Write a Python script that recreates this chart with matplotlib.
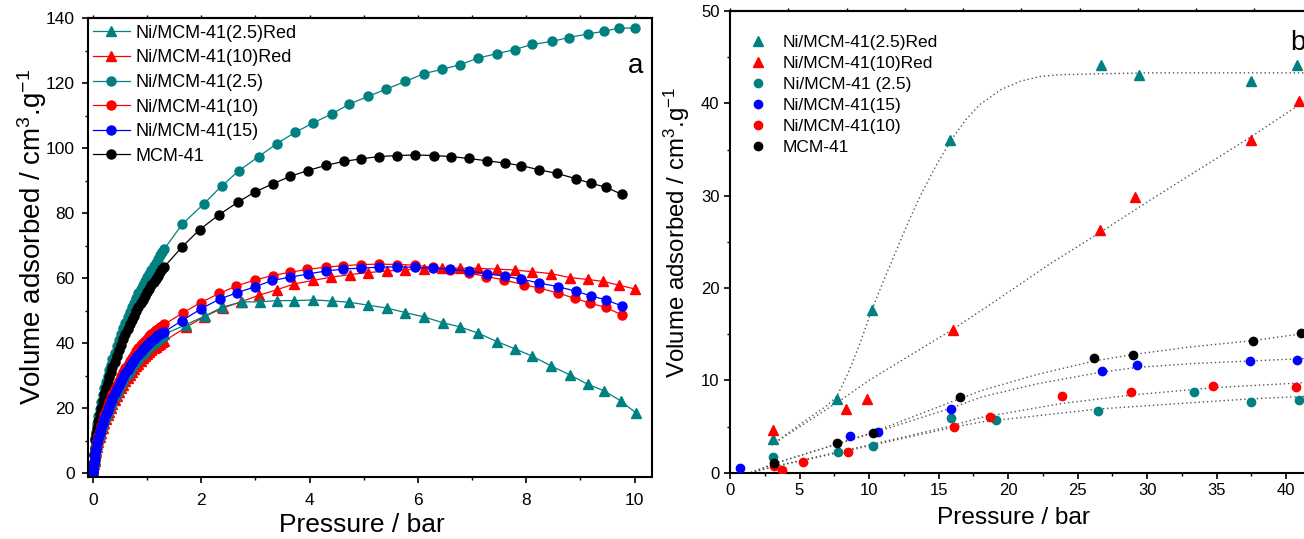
import numpy as np
import matplotlib
matplotlib.use('Agg')
from matplotlib import pyplot as plt
from matplotlib.ticker import MultipleLocator, FixedLocator

plt.rcParams['font.family'] = ['Liberation Sans', 'DejaVu Sans']
plt.rcParams['mathtext.fontset'] = 'custom'
plt.rcParams['mathtext.rm'] = 'Liberation Sans'
plt.rcParams['mathtext.it'] = 'Liberation Sans'

TEAL = '#008080'

# ---- panel a : isotherms ----
# low pressure part (dense points, shared pressures)
p_low = [0, 0.005, 0.01, 0.02, 0.03, 0.045, 0.06, 0.08, 0.1, 0.125, 0.15, 0.18, 0.21, 0.24,
         0.27, 0.3, 0.33, 0.36, 0.4, 0.44, 0.48, 0.52, 0.56, 0.6, 0.64, 0.68, 0.72, 0.76,
         0.8, 0.84, 0.88, 0.92, 0.96, 1.0, 1.04, 1.08, 1.12, 1.16, 1.2, 1.24, 1.28, 1.32]
tc_low = [0.5, 1.8, 3, 6, 8, 10.7, 12.7, 15.2, 17.5, 19.7, 21.8, 24, 26.1, 28.1,
          29.9, 31.7, 33.4, 35, 37, 39, 40.9, 42.8, 44.6, 46.3, 48, 49.5, 51, 52.5,
          54, 55.4, 56.7, 57.9, 59.1, 60.3, 61.4, 62.6, 63.7, 64.8, 65.9, 67, 68, 69]
bk_low = [0.5, 1.7, 3, 5.5, 7.5, 10.2, 12, 14, 16, 18.2, 20.2, 22.3, 24.3, 26.1,
          27.8, 29.5, 31, 32.6, 34.3, 36.1, 37.8, 39.5, 41.2, 42.8, 44.3, 45.8, 47.2, 48.5,
          49.8, 51.1, 52.3, 53.4, 54.6, 55.7, 56.8, 57.8, 58.8, 59.8, 60.8, 61.8, 62.7, 63.5]
rc_low = [0.3, 1.2, 2, 3.5, 4.8, 6.6, 8, 9.8, 11.5, 13.1, 14.6, 16.3, 17.8, 19.2,
          20.6, 21.8, 23.1, 24.3, 25.8, 27.1, 28.5, 29.8, 31.1, 32.3, 33.4, 34.5, 35.5, 36.5,
          37.5, 38.4, 39.3, 40.1, 40.8, 41.4, 42.1, 42.8, 43.4, 44, 44.5, 45, 45.4, 45.8]
bc_low = [0.3, 1.1, 2, 3.3, 4.5, 6.2, 7.6, 9.3, 10.8, 12.4, 13.9, 15.5, 17, 18.3,
          19.6, 20.8, 22, 23.1, 24.6, 25.9, 27.2, 28.5, 29.7, 30.8, 31.9, 32.9, 33.9, 34.8,
          35.7, 36.5, 37.3, 38.1, 38.8, 39.5, 40.2, 40.8, 41.4, 41.9, 42.4, 42.8, 43.2, 43.5]
rt_low = [0.2, 0.9, 1.5, 2.8, 3.9, 5.4, 6.7, 8.2, 9.6, 11.1, 12.5, 14, 15.4, 16.7,
          17.9, 19, 20.1, 21.2, 22.5, 23.8, 25, 26.1, 27.2, 28.3, 29.3, 30.2, 31.1, 32,
          32.9, 33.7, 34.5, 35.3, 36, 36.6, 37.2, 37.8, 38.4, 38.9, 39.4, 39.9, 40.3, 40.7]
tt_low = [0.3, 1.1, 2, 3.2, 4.4, 6, 7.3, 9, 10.5, 12.1, 13.6, 15.2, 16.6, 17.9,
          19.2, 20.3, 21.5, 22.6, 24, 25.3, 26.6, 27.8, 29, 30.1, 31.2, 32.2, 33.2, 34.1,
          35, 35.8, 36.6, 37.4, 38, 38.7, 39.3, 39.9, 40.5, 41, 41.5, 42, 42.4, 42.8]

# higher pressure part
tc_p = [1.65, 2.05, 2.38, 2.70, 3.06, 3.39, 3.73, 4.06, 4.41, 4.73, 5.08, 5.41, 5.77,
        6.11, 6.44, 6.77, 7.11, 7.45, 7.79, 8.11, 8.48, 8.78, 9.14, 9.43, 9.72, 10.0]
tc_v = [76.6, 82.9, 88.4, 93.1, 97.4, 101.3, 104.8, 107.7, 110.5, 113.5, 115.9, 118.1, 120.5,
        122.9, 124.2, 125.6, 127.7, 129.0, 130.3, 131.9, 132.8, 134.0, 135.1, 135.9, 136.9, 136.9]
bk_p = [1.65, 1.97, 2.32, 2.67, 2.99, 3.32, 3.64, 3.97, 4.30, 4.63, 4.95, 5.28, 5.62,
        5.95, 6.29, 6.61, 6.94, 7.27, 7.60, 7.91, 8.24, 8.57, 8.91, 9.19, 9.48, 9.76]
bk_v = [69.7, 74.9, 79.4, 83.3, 86.5, 89.0, 91.3, 93.1, 94.7, 95.9, 96.7, 97.4, 97.7,
        97.9, 97.7, 97.4, 96.8, 96.1, 95.4, 94.6, 93.3, 92.2, 90.6, 89.2, 87.9, 85.8]
rc_p = [1.67, 1.99, 2.33, 2.65, 3.0, 3.32, 3.63, 3.96, 4.30, 4.62, 4.95, 5.29, 5.62,
        5.95, 6.28, 6.60, 6.94, 7.26, 7.58, 7.95, 8.23, 8.59, 8.89, 9.18, 9.47, 9.76]
rc_v = [49.4, 52.5, 55.3, 57.6, 59.5, 60.8, 61.8, 62.7, 63.4, 63.8, 64.2, 64.3, 64.2,
        64.0, 63.3, 62.6, 61.6, 60.5, 59.5, 58.0, 57.0, 55.4, 53.8, 52.3, 51.0, 48.7]
bc_p = [1.64, 2.0, 2.34, 2.66, 3.0, 3.31, 3.64, 3.97, 4.30, 4.62, 4.95, 5.29, 5.61,
        5.95, 6.28, 6.60, 6.94, 7.27, 7.60, 7.91, 8.24, 8.58, 8.91, 9.19, 9.47, 9.76]
bc_v = [46.9, 50.6, 53.6, 55.5, 57.4, 59.3, 60.3, 61.3, 62.2, 62.8, 63.1, 63.4, 63.5,
        63.3, 63.1, 62.8, 62.2, 61.4, 60.6, 59.7, 58.5, 57.4, 56.0, 54.6, 53.3, 51.5]
rt_p = [1.72, 2.06, 2.40, 2.73, 3.07, 3.39, 3.71, 4.06, 4.40, 4.75, 5.07, 5.42, 5.77,
        6.11, 6.44, 6.77, 7.11, 7.45, 7.79, 8.10, 8.46, 8.80, 9.13, 9.42, 9.72, 10.0]
rt_v = [44.9, 48.2, 50.8, 52.7, 54.8, 56.4, 58.2, 59.3, 60.3, 61.1, 61.7, 62.2, 62.6,
        62.9, 63.1, 63.1, 63.0, 62.8, 62.5, 62.0, 61.4, 60.2, 59.6, 59.0, 57.8, 56.7]
tt_p = [1.72, 2.07, 2.39, 2.75, 3.08, 3.39, 3.72, 4.06, 4.41, 4.73, 5.08, 5.43, 5.77,
        6.11, 6.46, 6.78, 7.11, 7.46, 7.80, 8.11, 8.46, 8.80, 9.13, 9.43, 9.74, 10.02]
tt_v = [45.7, 48.4, 51.1, 52.7, 52.7, 53.1, 53.1, 53.3, 53.0, 52.6, 51.7, 50.8, 49.4,
        48.1, 46.3, 45.0, 43.1, 40.5, 38.2, 36.0, 33.0, 30.3, 27.4, 25.4, 22.3, 18.6]

# ---- panel b : high pressure ----
b_tt_p = [3.07, 7.71, 10.18, 15.85, 26.7, 29.4, 37.5, 40.8]
b_tt_v = [3.68, 8.02, 17.6, 36.0, 44.2, 43.1, 42.4, 44.1]
b_rt_p = [3.07, 8.36, 9.89, 16.05, 26.6, 29.1, 37.45, 40.9]
b_rt_v = [4.59, 6.87, 8.02, 15.5, 26.3, 29.9, 36.0, 40.3]
b_tc_p = [3.12, 7.79, 10.27, 15.93, 19.1, 26.5, 33.4, 37.5, 40.9]
b_tc_v = [1.70, 2.28, 2.89, 5.89, 5.74, 6.65, 8.71, 7.66, 7.84]
b_bc_p = [0.72, 8.6, 10.66, 15.88, 26.75, 29.27, 37.43, 40.78]
b_bc_v = [0.51, 4.01, 4.44, 6.90, 10.99, 11.63, 12.07, 12.18]
b_rc_p = [3.16, 3.76, 5.27, 8.48, 16.09, 18.68, 23.9, 28.84, 34.75, 40.71]
b_rc_v = [0.73, 0.26, 1.13, 2.21, 4.95, 6.07, 8.31, 8.71, 9.36, 9.32]
b_bk_p = [3.16, 7.71, 10.27, 16.52, 26.2, 29.0, 37.64, 41.05]
b_bk_v = [1.08, 3.18, 4.27, 8.2, 12.43, 12.78, 14.3, 15.17]

# fitted curves
f_tt_p = [3.0, 5.0, 7.0, 7.7, 8.5, 9.3, 10.2, 11.1, 12.0, 12.9, 13.7, 14.8, 15.9, 17.0,
          18.0, 19.5, 20.9, 22.3, 23.7, 26.6, 30, 35, 41.9]
f_tt_v = [3.0, 5.2, 7.3, 8.3, 10.8, 13.8, 17.6, 21.0, 24.2, 27.4, 30.0, 33.2, 36.0, 38.3,
          39.9, 41.5, 42.4, 42.9, 43.1, 43.2, 43.3, 43.3, 43.3]
f_rt_p = [3.0, 8.0, 10.0, 16.0, 18.7, 23.0, 26.6, 30.2, 37.5, 41.9]
f_rt_v = [3.0, 7.9, 10.0, 15.5, 18.2, 22.6, 26.0, 29.5, 36.4, 40.8]
f_bk_p = [1.5, 3.2, 7.7, 10.3, 16.5, 18.1, 22, 26.2, 29, 33, 37.6, 41.9]
f_bk_v = [0.0, 1.0, 3.1, 4.4, 8.0, 8.9, 10.6, 12.1, 12.8, 13.6, 14.3, 15.2]
f_bc_p = [1.5, 3.2, 7.7, 10.3, 15.9, 18.1, 22, 26.75, 29.3, 33, 37.4, 41.9]
f_bc_v = [0.0, 1.0, 3.1, 4.3, 7.0, 8.2, 9.6, 10.9, 11.4, 11.8, 12.1, 12.4]
f_rc_p = [1.5, 3.2, 5.3, 8.5, 10.3, 16, 18.1, 23.9, 28.8, 34.75, 41.9]
f_rc_v = [0.0, 0.7, 1.4, 2.5, 3.1, 5.1, 6.0, 7.5, 8.4, 9.2, 9.8]
f_tc_p = [1.5, 3.2, 8.5, 10.3, 16, 18.1, 26.5, 33.4, 37.5, 41.9]
f_tc_v = [0.0, 0.65, 2.4, 3.0, 4.9, 5.5, 6.9, 7.6, 8.0, 8.3]

fig = plt.figure(figsize=(13.04, 5.39), dpi=100)
W, H = 1304.0, 539.0
axa = fig.add_axes([88 / W, 1 - 477 / H, (652 - 88) / W, (477 - 18) / H])
axb = fig.add_axes([730 / W, 1 - 472.7 / H, (1312.5 - 730) / W, (472.7 - 11) / H])


def series(ax, x, y, color, marker, label, ms):
    ax.plot(x, y, color=color, marker=marker, ms=ms, lw=0.9, mec=color, label=label)


series(axa, p_low + tc_p, tc_low + tc_v, TEAL, 'o', 'Ni/MCM-41(2.5)', 6.5)
series(axa, p_low + bk_p, bk_low + bk_v, 'black', 'o', 'MCM-41', 6.5)
series(axa, p_low + rc_p, rc_low + rc_v, 'red', 'o', 'Ni/MCM-41(10)', 6.5)
series(axa, p_low + rt_p, rt_low + rt_v, 'red', '^', 'Ni/MCM-41(10)Red', 7)
series(axa, p_low + tt_p, tt_low + tt_v, TEAL, '^', 'Ni/MCM-41(2.5)Red', 7)
series(axa, p_low + bc_p, bc_low + bc_v, 'blue', 'o', 'Ni/MCM-41(15)', 6.5)

axa.set_xlim(-0.09, 10.32)
axa.set_ylim(-1.14, 140)
axa.xaxis.set_major_locator(MultipleLocator(2))
axa.xaxis.set_minor_locator(MultipleLocator(1))
axa.yaxis.set_major_locator(MultipleLocator(20))
axa.yaxis.set_minor_locator(MultipleLocator(10))
axa.set_xlabel('Pressure / bar', fontsize=19)
axa.set_ylabel('Volume adsorbed / cm$^3$.g$^{-1}$', fontsize=20)
axa.xaxis.set_label_coords(0.485, -0.078)
axa.yaxis.set_label_coords(-0.07, 0.522)
axa.text(0.985, 0.895, 'a', transform=axa.transAxes, fontsize=20, ha='right', va='center')

h, l = axa.get_legend_handles_labels()
order = ['Ni/MCM-41(2.5)Red', 'Ni/MCM-41(10)Red', 'Ni/MCM-41(2.5)', 'Ni/MCM-41(10)',
         'Ni/MCM-41(15)', 'MCM-41']
hd = dict(zip(l, h))
axa.legend([hd[k] for k in order], order, loc='upper left', bbox_to_anchor=(0.0, 0.995),
           frameon=False, fontsize=13, handlelength=2.1, handletextpad=0.3,
           labelspacing=0.42, borderpad=0.25, borderaxespad=0.0)

# panel b
for fx, fy in [(f_tt_p, f_tt_v), (f_rt_p, f_rt_v), (f_bk_p, f_bk_v),
               (f_bc_p, f_bc_v), (f_rc_p, f_rc_v), (f_tc_p, f_tc_v)]:
    axb.plot(fx, fy, color='#555555', ls=(0, (1, 2)), lw=1.0, zorder=1)

axb.plot(b_tt_p, b_tt_v, '^', color=TEAL, ms=7, ls='none', label='Ni/MCM-41(2.5)Red', zorder=3)
axb.plot(b_rt_p, b_rt_v, '^', color='red', ms=7, ls='none', label='Ni/MCM-41(10)Red', zorder=3)
axb.plot(b_tc_p, b_tc_v, 'o', color=TEAL, ms=6, ls='none', label='Ni/MCM-41 (2.5)', zorder=3)
axb.plot(b_bc_p, b_bc_v, 'o', color='blue', ms=6, ls='none', label='Ni/MCM-41(15)', zorder=3)
axb.plot(b_rc_p, b_rc_v, 'o', color='red', ms=6, ls='none', label='Ni/MCM-41(10)', zorder=3)
axb.plot(b_bk_p, b_bk_v, 'o', color='black', ms=6, ls='none', label='MCM-41', zorder=3)

axb.set_xlim(0, 41.9)
axb.set_ylim(0, 50)
axb.xaxis.set_major_locator(MultipleLocator(5))
axb.xaxis.set_minor_locator(MultipleLocator(2.5))
axb.yaxis.set_major_locator(MultipleLocator(10))
axb.yaxis.set_minor_locator(MultipleLocator(5))
axb.set_xlabel('Pressure / bar', fontsize=17.6)
axb.set_ylabel('Volume adsorbed / cm$^3$.g$^{-1}$', fontsize=17.3)
axb.xaxis.set_label_coords(0.486, -0.074)
axb.yaxis.set_label_coords(-0.066, 0.521)
axb.text(0.975, 0.93, 'b', transform=axb.transAxes, fontsize=20, ha='center', va='center')
axb.legend(loc='upper left', bbox_to_anchor=(0.027, 0.955), frameon=False, fontsize=12.5,
           handlelength=1.0, handletextpad=0.95, labelspacing=0.33, borderpad=0.2,
           borderaxespad=0.0)

for ax in (axa, axb):
    for s in ax.spines.values():
        s.set_linewidth(1.5)
    ax.tick_params(which='major', direction='out', length=4.5, width=1.2, labelsize=12.5, pad=5)
    ax.tick_params(which='minor', direction='out', length=2.5, width=1.0)

axa.tick_params(axis='x', which='major', pad=7)
axb.tick_params(which='major', labelsize=12, pad=3)

# small marks on the top frame
for ax, pos in ((axa, np.arange(0, 11, 1)), (axb, np.linspace(0, 41.9, 11))):
    top = ax.secondary_xaxis('top')
    top.xaxis.set_major_locator(FixedLocator(pos))
    top.tick_params(direction='out', length=2, width=1.0, labeltop=False)
    top.spines['top'].set_linewidth(1.5)

fig.savefig('out.png', dpi=100)
